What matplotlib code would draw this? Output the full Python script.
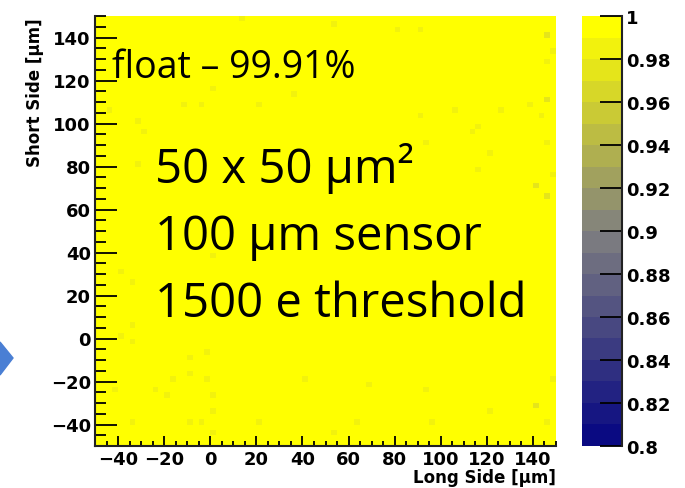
import numpy as np
import matplotlib
matplotlib.use("Agg")
import matplotlib.pyplot as plt
from matplotlib.colors import LinearSegmentedColormap, ListedColormap, Normalize
from matplotlib.patches import Polygon
from matplotlib.ticker import MultipleLocator

# bin edges of the 2D efficiency map (um)
x_edges = np.arange(-50, 150.1, 2.5)
y_edges = np.arange(-50, 150.1, 2.5)

# cells that are slightly below full efficiency
low_x = [125, 117, 114, 141, 145, 106, 90, 53, 90, 139, 120, 94, 117, 143, 80,
         1, -3, -11, 20, -28, -31, -32, 36, 13, -44,
         0, -38, -33, -33, -39, -33, -8, -1, -8, -16, -1, -25, -20, 2, -41,
         -8, -4, -35, 2, 0, 40, 69, 93, 122, 141, 148, 53, 21, 97, 64, 145,
         147, 147, 147, 147, 149, 149]
low_y = [107, 99, 95, 71, 66, 105, 144, 145, 104, 108, 85, 91, 79, 104, 144,
         116, 108, 108, 108, 95, 80, 100, 113, 149, 107,
         39, 31, 26, 7, 2, -1, -8, -6, -17, -20, -20, -25, -27, -27, -25,
         -38, -40, -40, -43, -34, -20, -22, -25, -33, -31, -20, -43, -38, -40, -38, -40,
         140, 128, 112, 90, 133, 75]
low_eff = [0.985, 0.985, 0.985, 0.975, 0.975, 0.985, 0.985, 0.985, 0.985, 0.985, 0.985, 0.985, 0.985, 0.985, 0.985,
           0.985, 0.985, 0.985, 0.985, 0.985, 0.985, 0.985, 0.985, 0.985, 0.985,
           0.985, 0.985, 0.985, 0.985, 0.985, 0.985, 0.985, 0.985, 0.985, 0.985, 0.985, 0.985, 0.985, 0.985, 0.985,
           0.985, 0.985, 0.985, 0.985, 0.985, 0.985, 0.985, 0.985, 0.985, 0.975, 0.985, 0.985, 0.985, 0.985, 0.985, 0.985,
           0.975, 0.985, 0.975, 0.985, 0.985, 0.985]

cbar_ticks = [0.8, 0.82, 0.84, 0.86, 0.88, 0.9, 0.92, 0.94, 0.96, 0.98, 1.0]
cbar_labels = ["0.8", "0.82", "0.84", "0.86", "0.88", "0.9", "0.92", "0.94", "0.96", "0.98", "1"]

eff = np.ones((len(y_edges) - 1, len(x_edges) - 1))
for x, y, v in zip(low_x, low_y, low_eff):
    ix = int((x - x_edges[0]) // 2.5)
    iy = int((y - y_edges[0]) // 2.5)
    ix = min(ix, eff.shape[1] - 1)
    iy = min(iy, eff.shape[0] - 1)
    eff[iy, ix] = v

base = LinearSegmentedColormap.from_list(
    "root", [(0.0, "#0a0a82"), (0.5, "#808080"), (1.0, "#ffff00")])
cmap = ListedColormap(base(np.linspace(0, 1, 20)))
norm = Normalize(0.8, 1.0)

fig = plt.figure(figsize=(6.85, 4.89), dpi=100)
ax = fig.add_axes([95 / 685, 42 / 489, 461 / 685, 430 / 489])
cax = fig.add_axes([582 / 685, 42 / 489, 40 / 685, 430 / 489])

mesh = ax.pcolormesh(x_edges, y_edges, eff, cmap=cmap, norm=norm)
ax.set_xlim(-50, 150)
ax.set_ylim(-50, 150)

for s in ["top", "right"]:
    ax.spines[s].set_visible(False)
for s in ["left", "bottom"]:
    ax.spines[s].set_color("#222222")
    ax.spines[s].set_linewidth(1.5)

tick_font = dict(family="DejaVu Sans", weight="bold", size=13)
ax.xaxis.set_major_locator(MultipleLocator(20))
ax.xaxis.set_minor_locator(MultipleLocator(5))
ax.yaxis.set_major_locator(MultipleLocator(20))
ax.yaxis.set_minor_locator(MultipleLocator(5))
ax.tick_params(axis="y", which="major", direction="in", length=16, width=1.3, pad=3)
ax.tick_params(axis="y", which="minor", direction="in", length=8, width=1.3)
ax.tick_params(axis="x", which="major", direction="in", length=7, width=1.3, pad=3)
ax.tick_params(axis="x", which="minor", direction="in", length=3.5, width=1.3)
ax.set_xticks(np.arange(-40, 141, 20))
ax.set_yticks(np.arange(-40, 141, 20))
ax.set_xticklabels([str(v).replace("-", "\u2212") for v in range(-40, 141, 20)], **tick_font)
ax.set_yticklabels([str(v).replace("-", "\u2212") for v in range(-40, 141, 20)], **tick_font)

cb = fig.colorbar(mesh, cax=cax)
cb.outline.set_visible(False)
cax.plot([1, 1], [0, 1], transform=cax.transAxes, color="#222222", lw=1.5, clip_on=False)
cb.set_ticks(cbar_ticks)
cb.set_ticklabels(cbar_labels)
for t in cax.get_yticklabels():
    t.set_fontfamily("DejaVu Sans")
    t.set_fontweight("bold")
    t.set_fontsize(13)
cax.tick_params(axis="y", which="major", direction="in", length=16, width=1.3, pad=3)
cax.minorticks_off()

label_font = dict(family="DejaVu Sans", weight="bold", size=12)
fig.text(35 / 685, 1 - 18 / 489, "Short Side [\u03bcm]", rotation=90, ha="center", va="top", **label_font)
fig.text(556 / 685, 2 / 489, "Long Side [\u03bcm]", ha="right", va="bottom", **label_font)

ax.text(112 / 685, 1 - 78 / 489, "float \u2013 99.91%", transform=fig.transFigure,
        family="Open Sans", fontsize=27, va="baseline", ha="left")
big = ["50 x 50 \u03bcm\u00b2", "100 \u03bcm sensor", "1500 e threshold"]
for i, line in enumerate(big):
    ax.text(155 / 685, 1 - (183 + 67 * i) / 489, line, transform=fig.transFigure,
            family="Open Sans", fontsize=34, va="baseline", ha="left")

# slide arrow cut off at the left edge
arrow = Polygon([(0, 1 - 343 / 489), (13 / 685, 1 - 359 / 489), (0, 1 - 376 / 489)],
                closed=True, transform=fig.transFigure, color="#4a7fd4", clip_on=False)
fig.patches.append(arrow)

fig.savefig("out.png", dpi=100)
